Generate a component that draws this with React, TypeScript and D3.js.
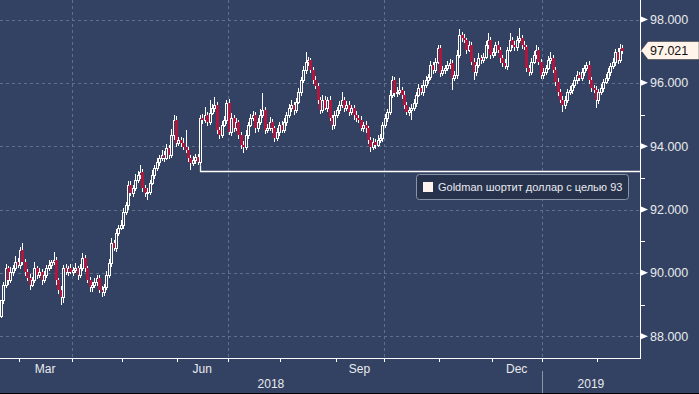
import React from 'react';
import * as d3 from 'd3';

// Daily closes (DXY), Feb 19 2018 .. Feb 15 2019, one per weekday
const closes = [
  89.14, 89.62, 90.15, 89.77, 90.03, 90.15, 90.34, 90.25, 90.72, 90.34,
  90.03, 89.84, 89.62, 89.77, 90.15, 89.93, 90.03, 89.77, 89.93, 90.15,
  90.25, 90.34, 90.41, 89.77, 89.46, 89.24, 90.15, 90.03, 90.15, 90.03,
  90.09, 90.15, 89.93, 90.15, 90.47, 90.15, 89.77, 89.55, 89.62, 89.71,
  89.84, 89.46, 89.40, 89.55, 89.93, 90.31, 90.94, 90.79, 91.26, 91.42,
  91.51, 91.92, 92.14, 92.77, 92.52, 92.68, 92.93, 93.09, 93.18, 92.68,
  92.52, 92.55, 92.84, 93.09, 93.31, 93.50, 93.63, 93.72, 93.63, 93.94,
  93.72, 94.35, 94.83, 94.10, 94.20, 94.10, 93.97, 93.88, 93.63, 93.47,
  93.56, 93.66, 93.50, 94.89, 94.83, 94.98, 94.76, 95.05, 95.21, 95.30,
  94.51, 94.35, 94.67, 94.83, 95.36, 94.45, 94.89, 94.57, 94.76, 94.35,
  94.04, 93.97, 94.35, 94.67, 94.89, 94.98, 94.57, 94.76, 94.98, 95.14,
  94.51, 94.57, 94.76, 94.57, 94.26, 94.45, 94.67, 94.51, 94.76, 94.98,
  95.21, 95.30, 95.14, 95.40, 95.71, 96.09, 96.41, 96.66, 96.72, 96.41,
  96.09, 95.90, 95.46, 95.14, 95.46, 95.21, 95.46, 94.89, 94.67, 94.98,
  95.14, 95.30, 95.46, 95.21, 95.30, 95.08, 95.21, 94.98, 94.89, 94.83,
  94.57, 94.67, 94.57, 94.20, 93.97, 94.13, 94.04, 94.20, 94.26, 94.67,
  94.89, 95.08, 95.62, 96.09, 95.68, 95.71, 95.77, 95.62, 95.30, 95.08,
  95.14, 95.21, 95.36, 95.62, 95.83, 95.71, 95.93, 96.09, 96.18, 96.56,
  96.41, 96.66, 97.10, 96.31, 96.41, 96.47, 96.56, 96.63, 96.15, 96.25,
  96.88, 97.51, 97.42, 97.35, 97.04, 97.19, 96.66, 96.34, 96.56, 96.78,
  96.72, 96.82, 97.19, 97.35, 96.88, 96.97, 97.19, 97.04, 96.78, 96.63,
  96.53, 97.04, 97.35, 97.19, 97.13, 97.35, 97.42, 97.19, 97.13, 96.47,
  96.34, 96.66, 96.88, 97.04, 96.66, 96.25, 96.34, 96.47, 96.72, 96.78,
  96.41, 96.03, 95.71, 95.46, 95.30, 95.46, 95.71, 95.77, 95.93, 96.09,
  96.25, 96.15, 96.34, 96.47, 96.56, 96.09, 95.83, 95.77, 95.46, 95.71,
  95.83, 96.03, 96.15, 96.34, 96.53, 96.66, 96.97, 96.72, 97.10, 97.021,
];
const firstOpen = 88.63;

// Upper wick length above the body, per candle
const wickUp = [
  0.00, 0.10, 0.12, 0.08, 0.15, 0.10, 0.20, 0.12, 0.10, 0.22,
  0.10, 0.08, 0.12, 0.10, 0.19, 0.08, 0.12, 0.10, 0.14, 0.10,
  0.15, 0.08, 0.25, 0.10, 0.06, 0.12, 0.10, 0.14, 0.08, 0.12,
  0.10, 0.15, 0.08, 0.12, 0.16, 0.10, 0.06, 0.10, 0.08, 0.12,
  0.10, 0.08, 0.12, 0.10, 0.14, 0.12, 0.15, 0.10, 0.12, 0.08,
  0.15, 0.12, 0.10, 0.14, 0.12, 0.10, 0.18, 0.12, 0.23, 0.10,
  0.08, 0.12, 0.10, 0.15, 0.10, 0.12, 0.10, 0.16, 0.12, 0.14,
  0.10, 0.18, 0.15, 0.12, 0.10, 0.08, 0.15, 0.55, 0.10, 0.08,
  0.12, 0.10, 0.08, 0.10, 0.12, 0.26, 0.10, 0.40, 0.12, 0.25,
  0.10, 0.08, 0.14, 0.12, 0.10, 0.12, 0.15, 0.10, 0.12, 0.08,
  0.10, 0.12, 0.15, 0.10, 0.12, 0.14, 0.10, 0.12, 0.18, 0.54,
  0.10, 0.12, 0.15, 0.10, 0.08, 0.12, 0.10, 0.14, 0.12, 0.10,
  0.12, 0.15, 0.10, 0.12, 0.14, 0.10, 0.12, 0.31, 0.10, 0.08,
  0.10, 0.12, 0.08, 0.10, 0.15, 0.12, 0.10, 0.12, 0.08, 0.14,
  0.10, 0.12, 0.25, 0.10, 0.14, 0.12, 0.10, 0.08, 0.12, 0.10,
  0.12, 0.10, 0.14, 0.08, 0.10, 0.12, 0.10, 0.15, 0.12, 0.10,
  0.12, 0.10, 0.14, 0.12, 0.10, 0.15, 0.38, 0.10, 0.12, 0.08,
  0.10, 0.12, 0.14, 0.10, 0.12, 0.10, 0.15, 0.12, 0.10, 0.14,
  0.10, 0.12, 0.10, 0.08, 0.12, 0.10, 0.14, 0.12, 0.10, 0.12,
  0.15, 0.19, 0.10, 0.12, 0.08, 0.14, 0.10, 0.12, 0.10, 0.15,
  0.10, 0.12, 0.14, 0.22, 0.10, 0.12, 0.10, 0.14, 0.08, 0.10,
  0.12, 0.10, 0.22, 0.10, 0.12, 0.14, 0.31, 0.10, 0.12, 0.08,
  0.10, 0.12, 0.14, 0.16, 0.10, 0.08, 0.12, 0.10, 0.14, 0.19,
  0.10, 0.08, 0.12, 0.10, 0.12, 0.14, 0.10, 0.12, 0.08, 0.10,
  0.12, 0.10, 0.14, 0.10, 0.10, 0.12, 0.08, 0.10, 0.12, 0.10,
  0.12, 0.10, 0.14, 0.12, 0.10, 0.12, 0.10, 0.14, 0.12, 0.10,
];

// Lower wick length below the body, per candle
const wickDn = [
  0.06, 0.12, 0.10, 0.14, 0.10, 0.12, 0.08, 0.10, 0.12, 0.10,
  0.12, 0.10, 0.16, 0.08, 0.10, 0.12, 0.10, 0.15, 0.08, 0.10,
  0.10, 0.12, 0.08, 0.14, 0.12, 0.25, 0.19, 0.10, 0.12, 0.08,
  0.12, 0.10, 0.14, 0.10, 0.08, 0.12, 0.10, 0.14, 0.15, 0.10,
  0.12, 0.10, 0.16, 0.12, 0.10, 0.08, 0.12, 0.10, 0.14, 0.10,
  0.08, 0.12, 0.10, 0.14, 0.10, 0.12, 0.08, 0.10, 0.12, 0.14,
  0.12, 0.22, 0.10, 0.08, 0.12, 0.10, 0.14, 0.10, 0.12, 0.08,
  0.12, 0.10, 0.14, 0.12, 0.10, 0.12, 0.08, 0.10, 0.12, 0.22,
  0.10, 0.12, 0.10, 0.10, 0.14, 0.10, 0.12, 0.10, 0.08, 0.12,
  0.14, 0.12, 0.10, 0.08, 0.12, 0.10, 0.14, 0.12, 0.10, 0.12,
  0.12, 0.19, 0.10, 0.12, 0.08, 0.10, 0.14, 0.12, 0.10, 0.08,
  0.12, 0.10, 0.08, 0.14, 0.12, 0.10, 0.12, 0.10, 0.08, 0.12,
  0.10, 0.12, 0.14, 0.10, 0.08, 0.12, 0.10, 0.12, 0.14, 0.10,
  0.12, 0.10, 0.14, 0.12, 0.10, 0.08, 0.12, 0.10, 0.16, 0.12,
  0.10, 0.12, 0.08, 0.14, 0.10, 0.12, 0.10, 0.14, 0.12, 0.10,
  0.10, 0.12, 0.14, 0.12, 0.15, 0.10, 0.12, 0.08, 0.10, 0.12,
  0.10, 0.12, 0.08, 0.10, 0.14, 0.12, 0.10, 0.12, 0.14, 0.10,
  0.12, 0.31, 0.10, 0.12, 0.08, 0.10, 0.12, 0.10, 0.14, 0.10,
  0.12, 0.10, 0.08, 0.14, 0.10, 0.12, 0.10, 0.12, 0.38, 0.10,
  0.12, 0.10, 0.14, 0.10, 0.12, 0.08, 0.10, 0.25, 0.12, 0.10,
  0.12, 0.10, 0.08, 0.12, 0.14, 0.10, 0.12, 0.10, 0.14, 0.12,
  0.10, 0.12, 0.08, 0.10, 0.12, 0.14, 0.10, 0.12, 0.10, 0.14,
  0.12, 0.10, 0.08, 0.12, 0.10, 0.14, 0.12, 0.10, 0.08, 0.12,
  0.10, 0.12, 0.14, 0.10, 0.22, 0.12, 0.10, 0.08, 0.12, 0.10,
  0.12, 0.10, 0.08, 0.12, 0.10, 0.14, 0.12, 0.10, 0.25, 0.12,
  0.10, 0.12, 0.08, 0.10, 0.12, 0.10, 0.14, 0.12, 0.10, 0.12,
];

const yTicks = [88, 90, 92, 94, 96, 98];
const yMinorTicks = [89, 91, 93, 95, 97];
const lastPrice = 97.021;
const quarterMonthLabels = ['Mar', 'Jun', 'Sep', 'Dec'];
const yearLabels = ['2018', '2019'];
const legendLabel = 'Goldman шортит доллар с целью 93';
const goldmanLevel = 93.22;
const goldmanStart = new Date(2018, 5, 14);

const W = 699;
const H = 394;
const PLOT_R = 640;
const PLOT_B = 358;
const BG = '#334262';
const GRID = '#5f6f8e';
const RED = '#b0173f';
const FONT = '"Liberation Sans", Arial, sans-serif';

export default function App() {
  const dates = d3
    .timeDay.range(new Date(2018, 1, 19), new Date(2019, 1, 16))
    .filter((d) => d.getDay() !== 0 && d.getDay() !== 6);
  const n = dates.length;

  const x = d3.scaleLinear().domain([0, n - 1]).range([0.7, 0.7 + (n - 1) * 2.4]);
  const y = d3.scaleLinear().domain([88, 98]).range([336.2, 19.5]);

  const candles = dates.map((d, i) => {
    const c = closes[i];
    const o = i === 0 ? firstOpen : closes[i - 1];
    return { d, o, c, h: Math.max(o, c) + wickUp[i], l: Math.min(o, c) - wickDn[i] };
  });

  const monthStarts: { i: number; d: Date }[] = [];
  dates.forEach((d, i) => {
    if (i > 0 && d.getMonth() !== dates[i - 1].getMonth()) monthStarts.push({ i, d });
  });
  const mx = (i: number) => x(i - 0.5);

  const monthName = d3.timeFormat('%b');
  const labelItems = monthStarts
    .map((m, k) => {
      const next = monthStarts[k + 1];
      const end = next ? mx(next.i) : null;
      return { name: monthName(m.d), cx: end !== null ? (mx(m.i) + end) / 2 : null };
    })
    .filter((m) => quarterMonthLabels.includes(m.name) && m.cx !== null);

  const quarterLines = monthStarts.filter((m) => [0, 3, 6, 9].includes(m.d.getMonth()));
  const yearStart = monthStarts.find((m) => m.d.getMonth() === 0)!;
  const yearX = mx(yearStart.i);

  const gIdx = dates.findIndex((d) => d.getTime() === goldmanStart.getTime());
  const gx = Math.round(x(gIdx)) + 0.5;
  const gy = Math.round(y(goldmanLevel)) + 0.5;
  const gTop = y(candles[gIdx].l);

  const lastY = y(lastPrice);

  return (
    <svg
      width={W}
      height={H}
      style={{ position: 'absolute', left: 0, top: 0, display: 'block' }}
      fontFamily={FONT}
    >
      <rect x={0} y={0} width={W} height={H} fill={BG} />
      <defs>
        <clipPath id="plotClip">
          <rect x={0} y={0} width={PLOT_R} height={PLOT_B} />
        </clipPath>
      </defs>

      {/* grid */}
      {yTicks.map((t) => (
        <line
          key={'gy' + t}
          x1={0}
          x2={PLOT_R}
          y1={Math.round(y(t)) + 0.5}
          y2={Math.round(y(t)) + 0.5}
          stroke={GRID}
          strokeDasharray="3,3"
        />
      ))}
      {quarterLines.map((m) => (
        <line
          key={'gx' + m.i}
          x1={Math.round(mx(m.i)) + 0.5}
          x2={Math.round(mx(m.i)) + 0.5}
          y1={0}
          y2={PLOT_B}
          stroke={GRID}
          strokeDasharray="3,3"
        />
      ))}

      {/* candles */}
      <g clipPath="url(#plotClip)">
        {candles.map((k, i) => {
          const cx = Math.round(x(i));
          const up = k.c >= k.o;
          const top = Math.round(y(Math.max(k.o, k.c)));
          const bot = Math.round(y(Math.min(k.o, k.c)));
          return (
            <g key={i}>
              <line
                x1={cx + 0.5}
                x2={cx + 0.5}
                y1={Math.round(y(k.h))}
                y2={Math.round(y(k.l))}
                stroke="#ffffff"
                strokeWidth={1}
              />
              {up ? (
                <rect
                  x={cx - 0.5}
                  y={top + 0.5}
                  width={2}
                  height={Math.max(0, bot - top)}
                  fill={BG}
                  stroke="#ffffff"
                  strokeWidth={1}
                />
              ) : (
                <rect x={cx - 1} y={top} width={3} height={Math.max(1, bot - top)} fill={RED} />
              )}
            </g>
          );
        })}

        {/* Goldman target line */}
        <path
          d={`M${gx},${gTop} L${gx},${gy} L${PLOT_R},${gy}`}
          fill="none"
          stroke="#ffffff"
          strokeWidth={1.3}
        />
      </g>

      {/* axes frame */}
      <line x1={PLOT_R + 0.5} x2={PLOT_R + 0.5} y1={0} y2={PLOT_B + 1} stroke="#ffffff" />
      <line x1={0} x2={PLOT_R + 1} y1={PLOT_B + 0.5} y2={PLOT_B + 0.5} stroke="#ffffff" />

      {/* right axis */}
      {yMinorTicks.map((t) => (
        <line
          key={'mt' + t}
          x1={PLOT_R}
          x2={PLOT_R + 5}
          y1={Math.round(y(t)) + 0.5}
          y2={Math.round(y(t)) + 0.5}
          stroke="#ffffff"
        />
      ))}
      {yTicks.map((t) => {
        const ty = y(t);
        return (
          <g key={'yt' + t}>
            <path d={`M${PLOT_R + 1},${ty - 3} L${PLOT_R + 8},${ty} L${PLOT_R + 1},${ty + 3} Z`} fill="#ffffff" />
            <text x={PLOT_R + 10} y={ty} dy="0.35em" fontSize={12.5} fill="#e8eaee">
              {d3.format('.3f')(t)}
            </text>
          </g>
        );
      })}

      {/* last price tag */}
      <path
        d={`M${PLOT_R + 1},${lastY} L${PLOT_R + 8},${lastY - 9} L${W},${lastY - 9} L${W},${lastY + 9} L${PLOT_R + 8},${lastY + 9} Z`}
        fill="#fff3ea"
        stroke="#333"
        strokeWidth={0.5}
      />
      <text x={PLOT_R + 10} y={lastY} dy="0.36em" fontSize={12.5} fill="#111">
        {d3.format('.3f')(lastPrice)}
      </text>

      {/* bottom axis */}
      {monthStarts.map((m) => (
        <line
          key={'mt' + m.i}
          x1={Math.round(mx(m.i)) + 0.5}
          x2={Math.round(mx(m.i)) + 0.5}
          y1={PLOT_B}
          y2={PLOT_B + 4}
          stroke="#ffffff"
        />
      ))}
      {labelItems.map((m) => (
        <text key={m.name} x={m.cx!} y={369} textAnchor="middle" dy="0.35em" fontSize={12} fill="#e8eaee">
          {m.name}
        </text>
      ))}
      <line x1={Math.round(yearX) + 0.5} x2={Math.round(yearX) + 0.5} y1={371} y2={H} stroke="#8d97aa" />
      <text x={yearX / 2} y={384} textAnchor="middle" dy="0.35em" fontSize={12} fill="#e8eaee">
        {yearLabels[0]}
      </text>
      <text x={(yearX + PLOT_R) / 2} y={384} textAnchor="middle" dy="0.35em" fontSize={12} fill="#e8eaee">
        {yearLabels[1]}
      </text>
      <rect x={0} y={H - 1} width={W} height={1} fill="#000" />

      {/* legend */}
      <rect x={416.5} y={174.5} width={212} height={25} rx={3} fill="#27324d" stroke="#8a94a8" />
      <rect x={423} y={182} width={10} height={10} fill="#fff3f0" />
      <text x={438} y={187} dy="0.35em" fontSize={11} fill="#e8eaee">
        {legendLabel}
      </text>
    </svg>
  );
}
